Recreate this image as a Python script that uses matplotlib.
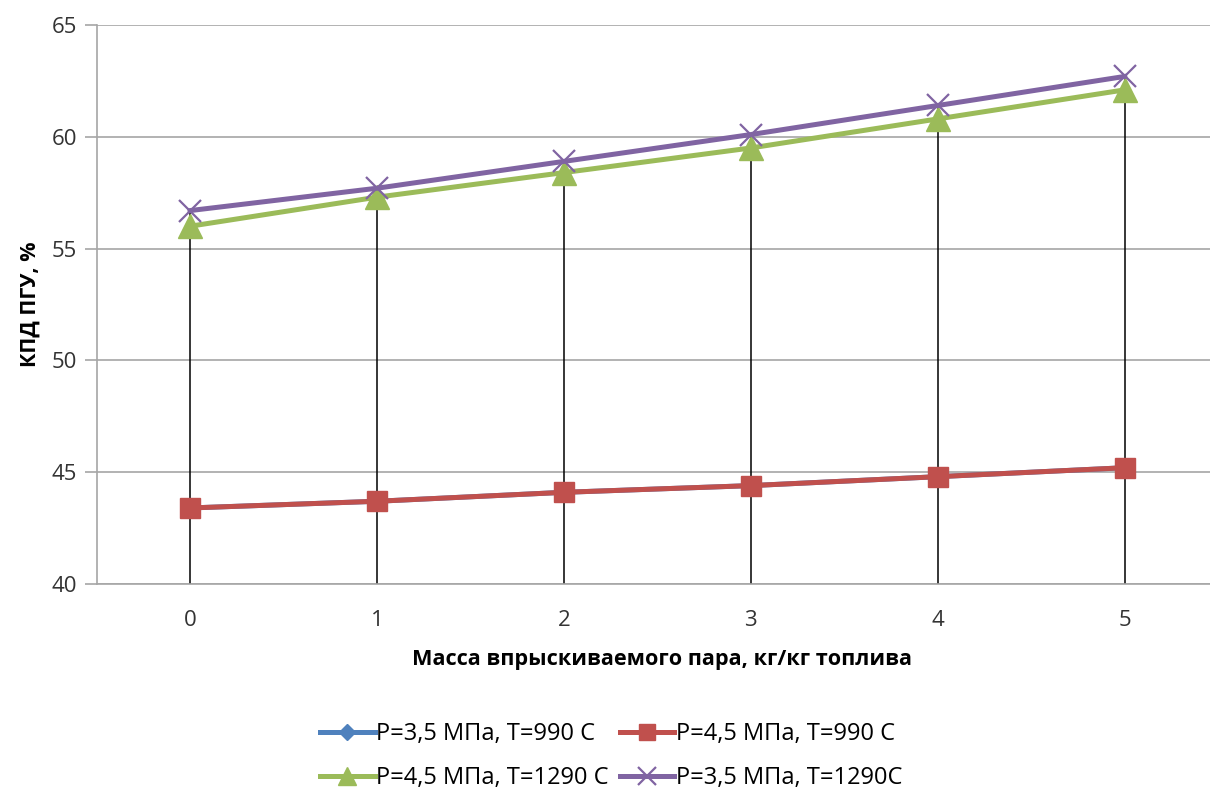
import numpy as np
import matplotlib.pyplot as plt

plt.rcParams['font.family'] = ['Open Sans', 'DejaVu Sans']

# масса впрыскиваемого пара, кг/кг топлива
steam = [0, 1, 2, 3, 4, 5]

# КПД ПГУ, %
eff_35_990 = [43.4, 43.7, 44.1, 44.4, 44.8, 45.2]
eff_45_990 = [43.4, 43.7, 44.1, 44.4, 44.8, 45.2]
eff_45_1290 = [56.0, 57.3, 58.4, 59.5, 60.8, 62.1]
eff_35_1290 = [56.7, 57.7, 58.9, 60.1, 61.4, 62.7]

labels = ['P=3,5 МПа, T=990 C', 'P=4,5 МПа, T=990 C',
          'P=4,5 МПа, T=1290 C', 'P=3,5 МПа, T=1290C']

fig = plt.figure(figsize=(12.1, 7.91), dpi=100)
ax = fig.add_axes([0.0798, 0.2617, 0.927, 0.7067])

grid_c = '#a6a6a6'
ax.set_ylim(40, 65)
ax.set_xlim(-0.5, 5.5)
ax.set_yticks([40, 45, 50, 55, 60, 65])
ax.set_xticks(steam)
ax.grid(axis='y', color=grid_c, linewidth=1.2)
ax.set_axisbelow(True)

for s in ['top', 'right']:
    ax.spines[s].set_visible(False)
ax.spines['left'].set_color(grid_c)
ax.spines['bottom'].set_color(grid_c)
ax.spines['left'].set_linewidth(1.2)
ax.spines['bottom'].set_linewidth(1.2)
ax.tick_params(axis='y', length=9, color=grid_c, width=1.2, labelsize=16, pad=5, labelcolor='#333333')
ax.tick_params(axis='x', length=0, labelsize=16, pad=19, labelcolor='#333333')

# линии проекции от верхней точки до оси
tops = np.max([eff_35_990, eff_45_990, eff_45_1290, eff_35_1290], axis=0)
ax.vlines(steam, 40, tops, colors='black', linewidth=1.1, zorder=2)

l1, = ax.plot(steam, eff_35_990, color='#4f81bd', lw=3.6, marker='D', ms=10, zorder=3)
l2, = ax.plot(steam, eff_45_990, color='#c0504d', lw=3.6, marker='s', ms=15, zorder=4)
l3, = ax.plot(steam, eff_45_1290, color='#9bbb59', lw=3.6, marker='^', ms=17, zorder=5)
l4, = ax.plot(steam, eff_35_1290, color='#8064a2', lw=3.6, marker='x', ms=16, mew=1.6, zorder=6)

ax.set_ylabel('КПД ПГУ, %', fontsize=15.5, fontweight='bold')
ax.yaxis.set_label_coords(-0.05, 0.5)
ax.set_xlabel('Масса впрыскиваемого пара, кг/кг топлива', fontsize=15.6, fontweight='bold')
ax.xaxis.set_label_coords(0.504, -0.117)

fig.legend([l1, l3, l2, l4], [labels[0], labels[2], labels[1], labels[3]],
           ncol=2, loc='center', bbox_to_anchor=(0.505, 0.044), frameon=False,
           fontsize=17, handlelength=2.3, columnspacing=0.5, handletextpad=0.05,
           labelspacing=0.85, markerscale=0.8)

fig.savefig('out.png', dpi=100)
